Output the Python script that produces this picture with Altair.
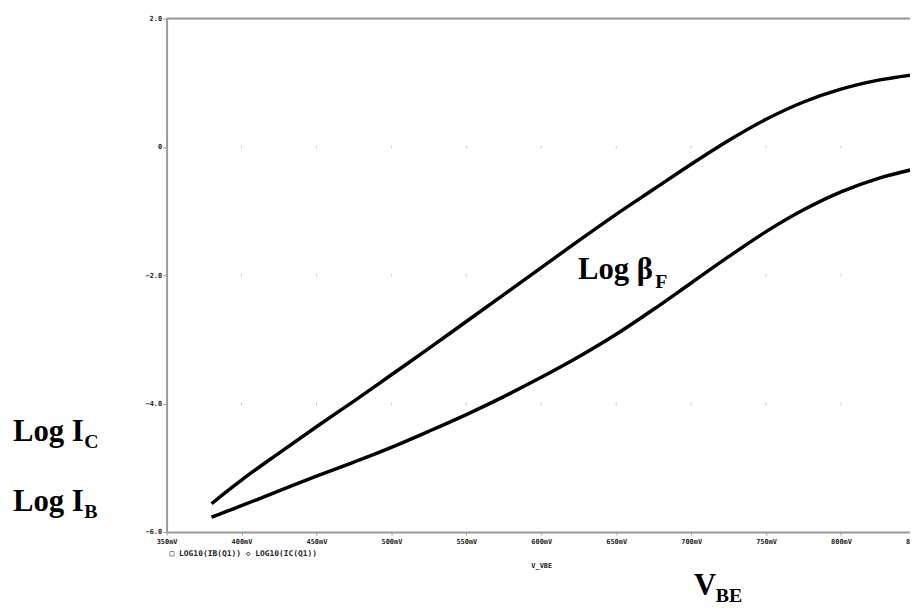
import altair as alt
import pandas as pd

# ---- data ----
vbe_mv = [380, 390, 400, 425, 450, 475, 500, 525, 550, 575, 600, 625, 650, 675, 700,
          725, 750, 775, 800, 825, 850]
log_ic = [-5.56, -5.37, -5.19, -4.77, -4.36, -3.96, -3.55, -3.14, -2.72, -2.30, -1.88,
          -1.46, -1.05, -0.66, -0.27, 0.10, 0.43, 0.70, 0.90, 1.04, 1.13]
log_ib = [-5.77, -5.68, -5.59, -5.36, -5.13, -4.91, -4.68, -4.43, -4.17, -3.89, -3.59,
          -3.27, -2.92, -2.53, -2.12, -1.71, -1.32, -0.98, -0.70, -0.49, -0.34]

x_ticks = [350, 400, 450, 500, 550, 600, 650, 700, 750, 800, 850]
y_ticks = [-6, -4, -2, 0, 2]
grid_x = [400, 450, 500, 550, 600, 650, 700, 750, 800]
grid_y = [-4, -2, 0]

legend_text = "\u25a1 LOG10(IB(Q1))  \u25c7 LOG10(IC(Q1))"
x_title = "V_VBE"

rows = []
for v, a, b in zip(vbe_mv, log_ic, log_ib):
    rows.append({"v": v, "val": a, "s": "IC"})
    rows.append({"v": v, "val": b, "s": "IB"})
df = pd.DataFrame(rows)
grid_df = pd.DataFrame([{"v": gx, "val": gy} for gx in grid_x for gy in grid_y])

W, H = 750, 518
xs = alt.Scale(domain=[350, 850], range=[0, 756], nice=False, zero=False)
ys = alt.Scale(domain=[-6, 2], nice=False, zero=False)

AX_FONT = "DejaVu Sans Mono"

x_axis = alt.Axis(values=x_ticks, labelExpr="datum.value + 'mV'", grid=False,
                  labelFont=AX_FONT, labelFontSize=7, labelFontWeight="bold",
                  labelColor="#222", domainColor="#999", domainWidth=2,
                  tickColor="#999", tickSize=3, labelPadding=3, labelFlush=False,
                  title=x_title, titleFont=AX_FONT, titleFontSize=7,
                  titleFontWeight="bold", titleColor="#222", titlePadding=17)
y_axis = alt.Axis(values=y_ticks,
                  labelExpr="datum.value == 0 ? '0' : format(datum.value, '.1f')",
                  grid=False, labelFont=AX_FONT, labelFontSize=7,
                  labelFontWeight="bold", labelColor="#222", domainColor="#999",
                  domainWidth=2, tickColor="#999", tickSize=4, labelPadding=1,
                  title=None)

base = alt.Chart(df)

lines = base.mark_line(color="black", strokeWidth=3.5, interpolate="monotone").encode(
    x=alt.X("v:Q", scale=xs, axis=x_axis),
    y=alt.Y("val:Q", scale=ys, axis=y_axis),
    detail="s:N",
)

grid = alt.Chart(grid_df).mark_tick(color="#bbb", thickness=1, size=3,
                                    orient="vertical").encode(
    x=alt.X("v:Q", scale=xs), y=alt.Y("val:Q", scale=ys))

top_rule = alt.Chart(pd.DataFrame({"y": [2]})).mark_rule(
    color="#999", strokeWidth=2).encode(y=alt.Y("y:Q", scale=ys))

def label(txt, x, y, size, font="Liberation Serif", weight="bold", color="black"):
    return alt.Chart(pd.DataFrame({"t": [txt]})).mark_text(
        font=font, fontSize=size, fontWeight=weight, color=color,
        align="left", baseline="alphabetic").encode(
        text="t:N", x=alt.value(x), y=alt.value(y))

texts = [
    label("Log I", -155, 426, 31),
    label("C", -83, 433, 20),
    label("Log I", -155, 497, 31),
    label("B", -83, 504, 20),
    label("Log \u03b2", 415, 263, 31),
    label("F", 493, 272, 20),
    label("V", 532, 582, 31),
    label("BE", 554, 589, 20),
    label(legend_text, 3, 542, 8, font=AX_FONT, color="#222"),
]

chart = alt.layer(grid, top_rule, lines, *texts).properties(
    width=W, height=H,
    autosize=alt.AutoSizeParams(type="none"),
    padding={"left": 160, "top": 8, "right": 0, "bottom": 72},
).configure_view(stroke=None).configure(background="white")

chart.save("out.html", embed_options={"renderer": "svg", "actions": False})
